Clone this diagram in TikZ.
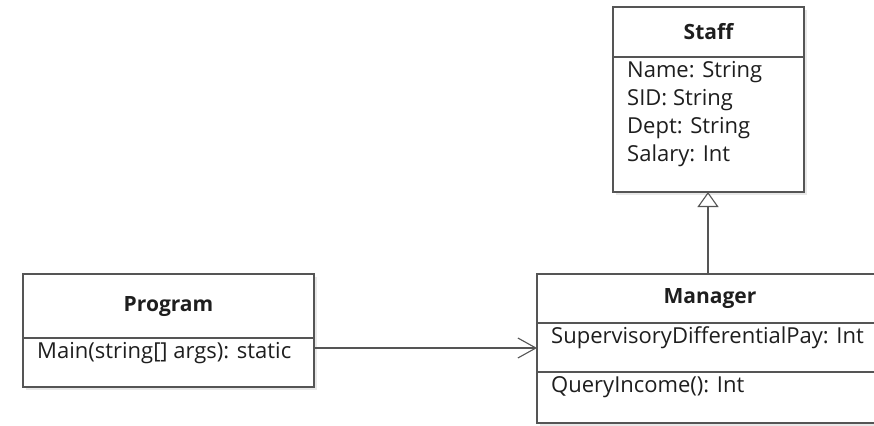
\documentclass[tikz,border=0pt]{standalone}
\usepackage{fontspec}
\setmainfont{Open Sans}
\usetikzlibrary{arrows.meta,shadows}
\definecolor{linec}{RGB}{85,85,85}
\definecolor{txtc}{RGB}{30,30,30}
\begin{document}
\begin{tikzpicture}[x=1pt,y=-1pt,
  umlbox/.style={draw=linec, line width=1.1pt, fill=white,
    drop shadow={opacity=0.18, shadow xshift=3pt, shadow yshift=-3pt}},
  divline/.style={draw=linec, line width=1.1pt},
  ttl/.style={font=\fontsize{21}{24}\selectfont\bfseries, text=txtc, inner sep=0pt},
  attr/.style={font=\fontsize{22}{24}\selectfont, text=txtc, inner sep=0pt, anchor=west},
  conn/.style={draw=linec, line width=1.1pt}]
\clip (0,0) rectangle (874,425);
\fill[white] (0,0) rectangle (874,425);
% Staff
\path[umlbox] (613,7) rectangle (804,192);
\coordinate (staffbot) at (708,192);
\draw[divline] (613,57) -- (804,57);
\node[ttl] (stafft) at (708.5,32) {Staff};
\node[attr] (s1) at (627,72) {Name: String};
\node[attr] (s2) at (627,100) {SID: String};
\node[attr] (s3) at (627,128) {Dept: String};
\node[attr] (s4) at (627,156) {Salary: Int};
% Manager
\path[umlbox] (537,274) rectangle (900,423);
\coordinate (mgrtop) at (708,274);
\coordinate (mgrleft) at (537,348);
\draw[divline] (537,323) -- (900,323);
\draw[divline] (537,372) -- (900,372);
\node[ttl] (mgrt) at (710,299) {Manager};
\node[attr] (m1) at (551,338) {SupervisoryDifferentialPay: Int};
\node[attr] (m2) at (551,387) {QueryIncome(): Int};
% Program
\path[umlbox] (23,274) rectangle (314,387);
\coordinate (progright) at (314,348);
\draw[divline] (23,338) -- (314,338);
\node[ttl] (progt) at (168.5,307) {Program};
\node[attr] (p1) at (37,353) {Main(string[] args): static};
% connectors
\draw[conn, -{Triangle[open, length=15pt, width=21pt]}] (mgrtop) -- (staffbot);
\draw[conn, -{Straight Barb[length=18pt, width=20pt, line width=1.1pt]}] (progright) -- (mgrleft);
\end{tikzpicture}
\end{document}
